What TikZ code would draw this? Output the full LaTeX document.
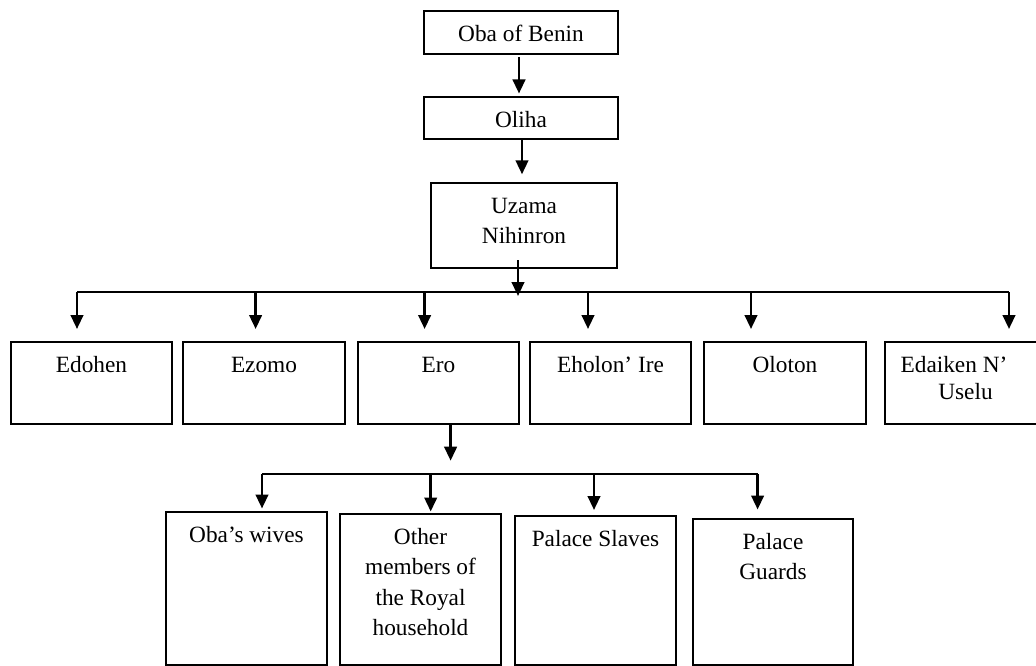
\documentclass[tikz,border=0pt]{standalone}
\usepackage{fontspec}
\setmainfont{Liberation Serif}
\usetikzlibrary{arrows.meta,calc}
\newcommand\bxc[3]{\parbox[c][#2][t]{#1}{\centering\vspace*{8.7pt}\strut #3}}
\begin{document}
\begin{tikzpicture}[x=1pt,y=-1pt,
  box/.style={draw, line width=2pt, inner sep=0pt, outer sep=0pt, anchor=north west,
    font=\fontsize{23.3pt}{30.5pt}\selectfont},
  ln/.style={line width=2pt},
  arr/.style={line width=2.6pt, -{Triangle[length=14pt,width=12.5pt]}}]
\useasboundingbox (0,0) rectangle (1036,666);
% top chain
\node[box] (oba)   at (424,11)  {\bxc{194pt}{43pt}{Oba of Benin}};
\node[box] (oliha) at (424,97)  {\bxc{194pt}{42pt}{Oliha}};
\node[box] (uzama) at (431,183) {\bxc{186pt}{85pt}{Uzama\\[-0.5pt]Nihinron}};
% second row
\node[box] (edohen)  at (11,342)  {\bxc{161pt}{82pt}{Edohen}};
\node[box] (ezomo)   at (183,342) {\bxc{162pt}{82pt}{Ezomo}};
\node[box] (ero)     at (358,342) {\bxc{161pt}{82pt}{Ero}};
\node[box] (eholon)  at (530,342) {\bxc{161pt}{82pt}{Eholon’ Ire}};
\node[box] (oloton)  at (704,342) {\bxc{162pt}{82pt}{Oloton}};
\node[box] (edaiken) at (885,342) {\bxc{161pt}{82pt}{Edaiken N’\kern23pt\\[-3.5pt]Uselu}};
% third row
\node[box] (wives)  at (166,512) {\bxc{161pt}{153pt}{Oba’s wives}};
\node[box] (other)  at (340,514) {\bxc{161pt}{151pt}{Other\\members of\\the Royal\\household}};
\node[box] (slaves) at (515,516) {\bxc{161pt}{149pt}{Palace Slaves}};
\node[box] (guards) at (693,519) {\bxc{160pt}{146pt}{Palace\\Guards}};
% connectors, top chain
\coordinate (c1) at (519,57);
\coordinate (c2) at (522,139);
\draw[arr, shorten >=3.5pt] (c1) -- (c1 |- oliha.north);
\draw[arr, shorten >=8.7pt] (c2) -- (c2 |- uzama.north);
% first bus
\coordinate (d1) at (77,292);
\coordinate (d2) at (255.6,292);
\coordinate (d3) at (424.6,292);
\coordinate (d4) at (588,292);
\coordinate (d5) at (751,292);
\coordinate (d6) at (1009,292);
\coordinate (uzdrop) at (518,296);
\draw[arr] ($(uzdrop |- uzama.south)+(0,-8)$) -- (uzdrop);
\draw[ln] (d1) -- (d6);
\draw[arr, shorten >=13pt] (d1) -- (d1 |- edohen.north);
\draw[arr, shorten >=13pt] (d2) -- (d2 |- ezomo.north);
\draw[arr, shorten >=13pt] (d3) -- (d3 |- ero.north);
\draw[arr, shorten >=13pt] (d4) -- (d4 |- eholon.north);
\draw[arr, shorten >=13pt] (d5) -- (d5 |- oloton.north);
\draw[arr, shorten >=13pt] (d6) -- (d6 |- edaiken.north);
% second bus
\coordinate (e0) at (450.6,474);
\coordinate (f1) at (262,474);
\coordinate (f2) at (430.7,474);
\coordinate (f3) at (594,474);
\coordinate (f4) at (757.6,474);
\draw[arr, shorten >=13.3pt] (e0 |- ero.south) -- (e0);
\draw[ln] (f1) -- (f4);
\draw[arr, shorten >=3.5pt] (f1) -- (f1 |- wives.north);
\draw[arr, shorten >=2.5pt] (f2) -- (f2 |- other.north);
\draw[arr, shorten >=6pt]   (f3) -- (f3 |- slaves.north);
\draw[arr, shorten >=9.5pt] (f4) -- (f4 |- guards.north);
\end{tikzpicture}
\end{document}
